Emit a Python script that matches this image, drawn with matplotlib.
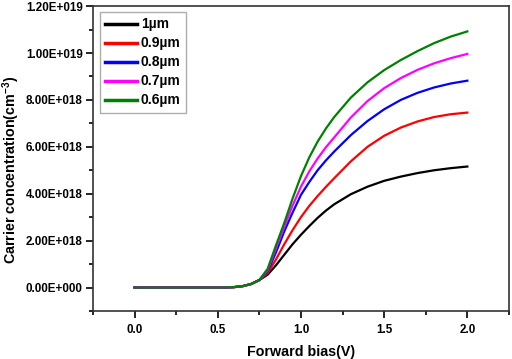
import matplotlib
matplotlib.use("Agg")
import matplotlib.pyplot as plt
from matplotlib.ticker import FuncFormatter, MultipleLocator
import numpy as np

plt.rcParams['font.family'] = ['Liberation Sans', 'DejaVu Sans']
plt.rcParams['font.weight'] = 'bold'
plt.rcParams['mathtext.fontset'] = 'custom'
plt.rcParams['mathtext.rm'] = 'Liberation Sans:bold'
plt.rcParams['mathtext.it'] = 'Liberation Sans:bold'
plt.rcParams['mathtext.bf'] = 'Liberation Sans:bold'

bias = [0.0, 0.1, 0.2, 0.3, 0.4, 0.5, 0.55, 0.6, 0.65, 0.7, 0.75, 0.8, 0.85, 0.9, 0.95,
        1.0, 1.05, 1.1, 1.15, 1.2, 1.3, 1.4, 1.5, 1.6, 1.7, 1.8, 1.9, 2.0]

low = [0.0, 0.0, 0.0, 0.0, 0.0, 0.0, 0.005, 0.02, 0.06, 0.15, 0.32]

c_1um = low + [0.55, 0.95, 1.4, 1.85, 2.25, 2.62, 2.97, 3.28, 3.55, 3.98, 4.3, 4.55, 4.73, 4.88, 5.0, 5.09, 5.16]
c_09um = low + [0.62, 1.2, 1.85, 2.45, 3.0, 3.48, 3.9, 4.29, 4.66, 5.38, 6.0, 6.47, 6.82, 7.08, 7.27, 7.39, 7.46]
c_08um = low + [0.7, 1.5, 2.4, 3.2, 3.95, 4.5, 5.0, 5.42, 5.8, 6.5, 7.1, 7.6, 8.0, 8.3, 8.53, 8.7, 8.82]
c_07um = low + [0.75, 1.68, 2.6, 3.5, 4.3, 4.95, 5.5, 5.98, 6.4, 7.25, 7.95, 8.5, 8.93, 9.28, 9.56, 9.78, 9.96]
c_06um = low + [0.8, 1.8, 2.76, 3.8, 4.75, 5.55, 6.22, 6.78, 7.27, 8.1, 8.75, 9.27, 9.7, 10.08, 10.42, 10.7, 10.92]

labels = ['1\u00b5m', '0.9\u00b5m', '0.8\u00b5m', '0.7\u00b5m', '0.6\u00b5m']
colors = ['#000000', '#ff0000', '#0000ff', '#ff00ff', '#008000']
series = [c_1um, c_09um, c_08um, c_07um, c_06um]
scale = 1e18

fig = plt.figure(figsize=(5.12, 3.59), dpi=100)
ax = fig.add_axes([0.1816, 0.1337, 0.8124, 0.8493])

for s, lab, col in zip(series, labels, colors):
    ax.plot(bias, np.array(s) * scale, color=col, lw=1.6, label=lab)

ax.set_xlim(-0.25, 2.25)
ax.set_ylim(-1e18, 1.2e19)
ax.xaxis.set_major_locator(MultipleLocator(0.5))
ax.xaxis.set_minor_locator(MultipleLocator(0.25))
ax.yaxis.set_major_locator(MultipleLocator(2e18))
ax.yaxis.set_minor_locator(MultipleLocator(1e18))

def fmt(v, pos):
    if abs(v) < 1e-3:
        return '0.00E+000'
    e = int(np.floor(np.log10(abs(v))))
    m = v / 10**e
    return f'{m:.2f}E+{e:03d}'

ax.yaxis.set_major_formatter(FuncFormatter(fmt))
ax.xaxis.set_major_formatter(FuncFormatter(lambda v, p: f'{v:.1f}'))

ax.tick_params(which='major', direction='out', length=5, width=1.2, labelsize=8.4, pad=2.5)
ax.tick_params(axis='x', which='major', pad=4)
ax.tick_params(which='minor', direction='out', length=3, width=1.2)
for lab in ax.get_xticklabels() + ax.get_yticklabels():
    lab.set_fontweight('bold')
for sp in ax.spines.values():
    sp.set_linewidth(1.2)
    sp.set_color('#333333')

ax.set_xlabel('Forward bias(V)', fontsize=10.3, fontweight='bold', labelpad=7)
ax.set_ylabel(r'Carrier concentration(cm$^{-3}$)', fontsize=10.3, fontweight='bold')
ax.yaxis.set_label_coords(-0.196, 0.462)
ax.yaxis.label.set_verticalalignment('center')

leg = ax.legend(loc='upper left', bbox_to_anchor=(0.01, 0.99), fontsize=10, frameon=True,
                fancybox=False, edgecolor='#999999', handlelength=2.3, handletextpad=0.25,
                labelspacing=0.36, borderpad=0.4, borderaxespad=0.2)
for line in leg.get_lines():
    line.set_linewidth(2.5)
for t in leg.get_texts():
    t.set_fontweight('bold')

fig.savefig('out.png', dpi=100)
